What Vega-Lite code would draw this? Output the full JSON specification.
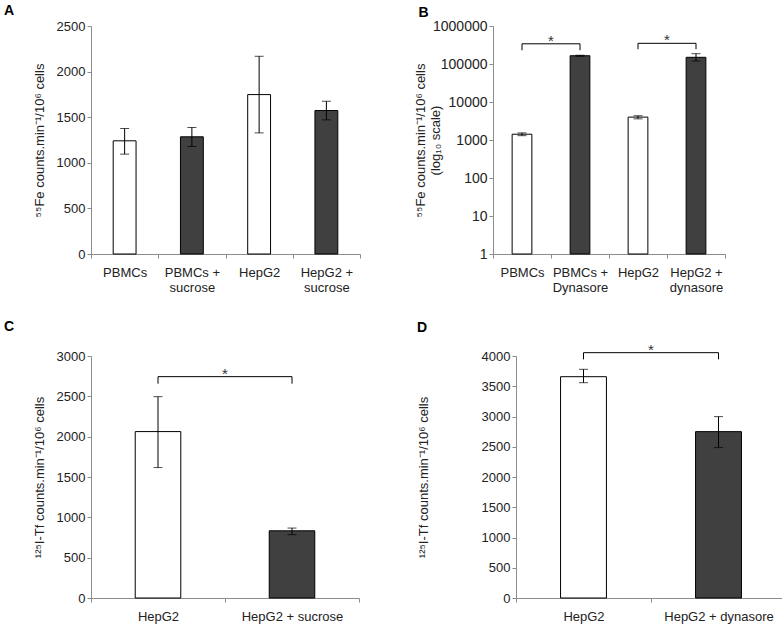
{
  "$schema": "https://vega.github.io/schema/vega-lite/v6.json",
  "padding": {"left": 4, "top": 4, "right": 2, "bottom": 2},
  "background": "white",
  "config": {
    "font": "Liberation Sans",
    "view": {"stroke": null},
    "axis": {"labelFont": "Liberation Sans", "labelFontSize": 13, "labelColor": "#222", "titleFont": "Liberation Sans", "titleFontSize": 13, "titleFontWeight": "normal", "titleColor": "#222", "domainColor": "#8c8c8c", "tickColor": "#8c8c8c", "grid": false, "tickSize": 4},
    "title": {"fontSize": 14, "fontWeight": "bold", "anchor": "start", "frame": "bounds", "color": "#000"}
  },
  "datasets": {
    "a": [
      {"group": "PBMCs", "treated": "no", "value": 1241, "lo": 1095, "hi": 1376},
      {"group": "PBMCs + sucrose", "treated": "yes", "value": 1285, "lo": 1179, "hi": 1387},
      {"group": "HepG2", "treated": "no", "value": 1748, "lo": 1328, "hi": 2168},
      {"group": "HepG2 + sucrose", "treated": "yes", "value": 1573, "lo": 1471, "hi": 1675}
    ],
    "b": [
      {"group": "PBMCs", "treated": "no", "value": 1420, "lo": 1300, "hi": 1540},
      {"group": "PBMCs + Dynasore", "treated": "yes", "value": 165000, "lo": 160000, "hi": 170000},
      {"group": "HepG2", "treated": "no", "value": 4000, "lo": 3600, "hi": 4350},
      {"group": "HepG2 + dynasore", "treated": "yes", "value": 150000, "lo": 120000, "hi": 187000}
    ],
    "bsig": [
      {"x1": "PBMCs", "x2": "PBMCs + Dynasore", "y": 340000, "ylow": 230000},
      {"x1": "HepG2", "x2": "HepG2 + dynasore", "y": 350000, "ylow": 245000}
    ],
    "c": [
      {"group": "HepG2", "treated": "no", "value": 2063, "lo": 1617, "hi": 2496},
      {"group": "HepG2 + sucrose", "treated": "yes", "value": 833, "lo": 785, "hi": 867}
    ],
    "csig": [
      {"x1": "HepG2", "x2": "HepG2 + sucrose", "y": 2744, "ylow": 2657}
    ],
    "d": [
      {"group": "HepG2", "treated": "no", "value": 3658, "lo": 3559, "hi": 3780},
      {"group": "HepG2 + dynasore", "treated": "yes", "value": 2750, "lo": 2486, "hi": 2998}
    ],
    "dsig": [
      {"x1": "HepG2", "x2": "HepG2 + dynasore", "y": 4055, "ylow": 3945}
    ]
  },
  "spacing": 26,
  "vconcat": [
    {
      "spacing": 53,
      "hconcat": [
        {
          "title": {"text": "A", "dx": -29, "offset": 2},
          "width": 269, "height": 228,
          "data": {"name": "a"},
          "encoding": {
            "x": {"field": "group", "type": "nominal", "scale": {"domain": ["PBMCs", "PBMCs + sucrose", "HepG2", "HepG2 + sucrose"], "paddingInner": 0, "paddingOuter": 0},
              "axis": {"title": null, "labelAngle": 0, "tickBand": "extent", "labelPadding": 8, "labelExpr": "indexof(datum.label, ' + ') > 0 ? [slice(datum.label, 0, indexof(datum.label, ' + ') + 2), slice(datum.label, indexof(datum.label, ' + ') + 3)] : datum.label"}}
          },
          "layer": [
            {"mark": {"type": "bar", "width": {"band": 0.34}, "stroke": "#000", "strokeWidth": 1},
              "encoding": {
                "y": {"field": "value", "type": "quantitative", "scale": {"domain": [0, 2500], "nice": false}, "axis": {"values": [0, 500, 1000, 1500, 2000, 2500], "format": "d", "title": "⁵⁵Fe counts.min⁻¹/10⁶ cells", "titlePadding": 10}},
                "color": {"field": "treated", "type": "nominal", "scale": {"domain": ["no", "yes"], "range": ["#ffffff", "#404040"]}, "legend": null}
              }},
            {"mark": {"type": "rule", "color": "#000"}, "encoding": {"y": {"field": "lo", "type": "quantitative", "scale": {"domain": [0, 2500], "nice": false}, "axis": {"values": [0, 500, 1000, 1500, 2000, 2500], "format": "d", "title": "⁵⁵Fe counts.min⁻¹/10⁶ cells", "titlePadding": 10}}, "y2": {"field": "hi"}}},
            {"mark": {"type": "tick", "color": "#000", "size": 9, "thickness": 1}, "encoding": {"y": {"field": "hi", "type": "quantitative", "scale": {"domain": [0, 2500], "nice": false}, "axis": {"values": [0, 500, 1000, 1500, 2000, 2500], "format": "d", "title": "⁵⁵Fe counts.min⁻¹/10⁶ cells", "titlePadding": 10}}}},
            {"mark": {"type": "tick", "color": "#000", "size": 9, "thickness": 1}, "encoding": {"y": {"field": "lo", "type": "quantitative", "scale": {"domain": [0, 2500], "nice": false}, "axis": {"values": [0, 500, 1000, 1500, 2000, 2500], "format": "d", "title": "⁵⁵Fe counts.min⁻¹/10⁶ cells", "titlePadding": 10}}}}
          ]
        },
        {
          "title": {"text": "B", "dx": 4, "offset": -1},
          "width": 232, "height": 228,
          "data": {"name": "b"},
          "encoding": {
            "x": {"field": "group", "type": "nominal", "scale": {"domain": ["PBMCs", "PBMCs + Dynasore", "HepG2", "HepG2 + dynasore"], "paddingInner": 0, "paddingOuter": 0},
              "axis": {"title": null, "labelAngle": 0, "tickBand": "extent", "labelPadding": 8, "labelExpr": "indexof(datum.label, ' + ') > 0 ? [slice(datum.label, 0, indexof(datum.label, ' + ') + 2), slice(datum.label, indexof(datum.label, ' + ') + 3)] : datum.label"}}
          },
          "layer": [
            {"mark": {"type": "bar", "width": {"band": 0.34}, "stroke": "#000", "strokeWidth": 1},
              "encoding": {
                "y": {"field": "value", "type": "quantitative", "scale": {"type": "log", "domain": [1, 1000000], "nice": false}, "axis": {"values": [1, 10, 100, 1000, 10000, 100000, 1000000], "format": "d", "labelFontSize": 14, "title": ["⁵⁵Fe counts.min⁻¹/10⁶ cells", "(log₁₀ scale)"], "titlePadding": -10}},
                "y2": {"datum": 1},
                "color": {"field": "treated", "type": "nominal", "scale": {"domain": ["no", "yes"], "range": ["#ffffff", "#404040"]}, "legend": null}
              }},
            {"mark": {"type": "rule", "color": "#000"}, "encoding": {"y": {"field": "lo", "type": "quantitative", "scale": {"type": "log", "domain": [1, 1000000], "nice": false}, "axis": {"values": [1, 10, 100, 1000, 10000, 100000, 1000000], "format": "d", "labelFontSize": 14, "title": ["⁵⁵Fe counts.min⁻¹/10⁶ cells", "(log₁₀ scale)"], "titlePadding": -10}}, "y2": {"field": "hi"}}},
            {"mark": {"type": "tick", "color": "#000", "size": 9, "thickness": 1}, "encoding": {"y": {"field": "hi", "type": "quantitative", "scale": {"type": "log", "domain": [1, 1000000], "nice": false}, "axis": {"values": [1, 10, 100, 1000, 10000, 100000, 1000000], "format": "d", "labelFontSize": 14, "title": ["⁵⁵Fe counts.min⁻¹/10⁶ cells", "(log₁₀ scale)"], "titlePadding": -10}}}},
            {"mark": {"type": "tick", "color": "#000", "size": 9, "thickness": 1}, "encoding": {"y": {"field": "lo", "type": "quantitative", "scale": {"type": "log", "domain": [1, 1000000], "nice": false}, "axis": {"values": [1, 10, 100, 1000, 10000, 100000, 1000000], "format": "d", "labelFontSize": 14, "title": ["⁵⁵Fe counts.min⁻¹/10⁶ cells", "(log₁₀ scale)"], "titlePadding": -10}}}},
            {"data": {"name": "bsig"}, "mark": {"type": "rule", "color": "#000"}, "encoding": {"x": {"field": "x1", "type": "nominal"}, "x2": {"field": "x2"}, "y": {"field": "y", "type": "quantitative", "scale": {"type": "log", "domain": [1, 1000000], "nice": false}, "axis": {"values": [1, 10, 100, 1000, 10000, 100000, 1000000], "format": "d", "labelFontSize": 14, "title": ["⁵⁵Fe counts.min⁻¹/10⁶ cells", "(log₁₀ scale)"], "titlePadding": -10}}}},
            {"data": {"name": "bsig"}, "mark": {"type": "rule", "color": "#000"}, "encoding": {"x": {"field": "x1", "type": "nominal"}, "y": {"field": "y", "type": "quantitative", "scale": {"type": "log", "domain": [1, 1000000], "nice": false}, "axis": {"values": [1, 10, 100, 1000, 10000, 100000, 1000000], "format": "d", "labelFontSize": 14, "title": ["⁵⁵Fe counts.min⁻¹/10⁶ cells", "(log₁₀ scale)"], "titlePadding": -10}}, "y2": {"field": "ylow"}}},
            {"data": {"name": "bsig"}, "mark": {"type": "rule", "color": "#000"}, "encoding": {"x": {"field": "x2", "type": "nominal"}, "y": {"field": "y", "type": "quantitative", "scale": {"type": "log", "domain": [1, 1000000], "nice": false}, "axis": {"values": [1, 10, 100, 1000, 10000, 100000, 1000000], "format": "d", "labelFontSize": 14, "title": ["⁵⁵Fe counts.min⁻¹/10⁶ cells", "(log₁₀ scale)"], "titlePadding": -10}}, "y2": {"field": "ylow"}}},
            {"data": {"name": "bsig"}, "mark": {"type": "text", "text": "*", "fontSize": 15, "color": "#333", "baseline": "alphabetic", "dy": 2}, "encoding": {"x": {"field": "x1", "type": "nominal", "bandPosition": 1}, "y": {"field": "y", "type": "quantitative", "scale": {"type": "log", "domain": [1, 1000000], "nice": false}, "axis": {"values": [1, 10, 100, 1000, 10000, 100000, 1000000], "format": "d", "labelFontSize": 14, "title": ["⁵⁵Fe counts.min⁻¹/10⁶ cells", "(log₁₀ scale)"], "titlePadding": -10}}}}
          ]
        }
      ]
    },
    {
      "spacing": 57,
      "hconcat": [
        {
          "title": {"text": "C", "dx": -29, "offset": 16},
          "width": 268, "height": 242,
          "data": {"name": "c"},
          "encoding": {
            "x": {"field": "group", "type": "nominal", "scale": {"domain": ["HepG2", "HepG2 + sucrose"], "paddingInner": 0, "paddingOuter": 0},
              "axis": {"title": null, "labelAngle": 0, "tickBand": "extent", "labelPadding": 8}}
          },
          "layer": [
            {"mark": {"type": "bar", "width": {"band": 0.34}, "stroke": "#000", "strokeWidth": 1},
              "encoding": {
                "y": {"field": "value", "type": "quantitative", "scale": {"domain": [0, 3000], "nice": false}, "axis": {"values": [0, 500, 1000, 1500, 2000, 2500, 3000], "format": "d", "title": "¹²⁵I-Tf counts.min⁻¹/10⁶ cells", "titlePadding": 10}},
                "color": {"field": "treated", "type": "nominal", "scale": {"domain": ["no", "yes"], "range": ["#ffffff", "#404040"]}, "legend": null}
              }},
            {"mark": {"type": "rule", "color": "#000"}, "encoding": {"y": {"field": "lo", "type": "quantitative", "scale": {"domain": [0, 3000], "nice": false}, "axis": {"values": [0, 500, 1000, 1500, 2000, 2500, 3000], "format": "d", "title": "¹²⁵I-Tf counts.min⁻¹/10⁶ cells", "titlePadding": 10}}, "y2": {"field": "hi"}}},
            {"mark": {"type": "tick", "color": "#000", "size": 9, "thickness": 1}, "encoding": {"y": {"field": "hi", "type": "quantitative", "scale": {"domain": [0, 3000], "nice": false}, "axis": {"values": [0, 500, 1000, 1500, 2000, 2500, 3000], "format": "d", "title": "¹²⁵I-Tf counts.min⁻¹/10⁶ cells", "titlePadding": 10}}}},
            {"mark": {"type": "tick", "color": "#000", "size": 9, "thickness": 1}, "encoding": {"y": {"field": "lo", "type": "quantitative", "scale": {"domain": [0, 3000], "nice": false}, "axis": {"values": [0, 500, 1000, 1500, 2000, 2500, 3000], "format": "d", "title": "¹²⁵I-Tf counts.min⁻¹/10⁶ cells", "titlePadding": 10}}}},
            {"data": {"name": "csig"}, "mark": {"type": "rule", "color": "#000"}, "encoding": {"x": {"field": "x1", "type": "nominal"}, "x2": {"field": "x2"}, "y": {"field": "y", "type": "quantitative", "scale": {"domain": [0, 3000], "nice": false}, "axis": {"values": [0, 500, 1000, 1500, 2000, 2500, 3000], "format": "d", "title": "¹²⁵I-Tf counts.min⁻¹/10⁶ cells", "titlePadding": 10}}}},
            {"data": {"name": "csig"}, "mark": {"type": "rule", "color": "#000"}, "encoding": {"x": {"field": "x1", "type": "nominal"}, "y": {"field": "y", "type": "quantitative", "scale": {"domain": [0, 3000], "nice": false}, "axis": {"values": [0, 500, 1000, 1500, 2000, 2500, 3000], "format": "d", "title": "¹²⁵I-Tf counts.min⁻¹/10⁶ cells", "titlePadding": 10}}, "y2": {"field": "ylow"}}},
            {"data": {"name": "csig"}, "mark": {"type": "rule", "color": "#000"}, "encoding": {"x": {"field": "x2", "type": "nominal"}, "y": {"field": "y", "type": "quantitative", "scale": {"domain": [0, 3000], "nice": false}, "axis": {"values": [0, 500, 1000, 1500, 2000, 2500, 3000], "format": "d", "title": "¹²⁵I-Tf counts.min⁻¹/10⁶ cells", "titlePadding": 10}}, "y2": {"field": "ylow"}}},
            {"data": {"name": "csig"}, "mark": {"type": "text", "text": "*", "fontSize": 15, "color": "#333", "baseline": "alphabetic", "dy": 2}, "encoding": {"x": {"field": "x1", "type": "nominal", "bandPosition": 1}, "y": {"field": "y", "type": "quantitative", "scale": {"domain": [0, 3000], "nice": false}, "axis": {"values": [0, 500, 1000, 1500, 2000, 2500, 3000], "format": "d", "title": "¹²⁵I-Tf counts.min⁻¹/10⁶ cells", "titlePadding": 10}}}}
          ]
        },
        {
          "title": {"text": "D", "dx": 0, "offset": 8},
          "width": 270, "height": 242,
          "data": {"name": "d"},
          "encoding": {
            "x": {"field": "group", "type": "nominal", "scale": {"domain": ["HepG2", "HepG2 + dynasore"], "paddingInner": 0, "paddingOuter": 0},
              "axis": {"title": null, "labelAngle": 0, "tickBand": "extent", "labelPadding": 8}}
          },
          "layer": [
            {"mark": {"type": "bar", "width": {"band": 0.34}, "stroke": "#000", "strokeWidth": 1},
              "encoding": {
                "y": {"field": "value", "type": "quantitative", "scale": {"domain": [0, 4000], "nice": false}, "axis": {"values": [0, 500, 1000, 1500, 2000, 2500, 3000, 3500, 4000], "format": "d", "title": "¹²⁵I-Tf counts.min⁻¹/10⁶ cells", "titlePadding": 51}},
                "color": {"field": "treated", "type": "nominal", "scale": {"domain": ["no", "yes"], "range": ["#ffffff", "#404040"]}, "legend": null}
              }},
            {"mark": {"type": "rule", "color": "#000"}, "encoding": {"y": {"field": "lo", "type": "quantitative", "scale": {"domain": [0, 4000], "nice": false}, "axis": {"values": [0, 500, 1000, 1500, 2000, 2500, 3000, 3500, 4000], "format": "d", "title": "¹²⁵I-Tf counts.min⁻¹/10⁶ cells", "titlePadding": 51}}, "y2": {"field": "hi"}}},
            {"mark": {"type": "tick", "color": "#000", "size": 9, "thickness": 1}, "encoding": {"y": {"field": "hi", "type": "quantitative", "scale": {"domain": [0, 4000], "nice": false}, "axis": {"values": [0, 500, 1000, 1500, 2000, 2500, 3000, 3500, 4000], "format": "d", "title": "¹²⁵I-Tf counts.min⁻¹/10⁶ cells", "titlePadding": 51}}}},
            {"mark": {"type": "tick", "color": "#000", "size": 9, "thickness": 1}, "encoding": {"y": {"field": "lo", "type": "quantitative", "scale": {"domain": [0, 4000], "nice": false}, "axis": {"values": [0, 500, 1000, 1500, 2000, 2500, 3000, 3500, 4000], "format": "d", "title": "¹²⁵I-Tf counts.min⁻¹/10⁶ cells", "titlePadding": 51}}}},
            {"data": {"name": "dsig"}, "mark": {"type": "rule", "color": "#000"}, "encoding": {"x": {"field": "x1", "type": "nominal"}, "x2": {"field": "x2"}, "y": {"field": "y", "type": "quantitative", "scale": {"domain": [0, 4000], "nice": false}, "axis": {"values": [0, 500, 1000, 1500, 2000, 2500, 3000, 3500, 4000], "format": "d", "title": "¹²⁵I-Tf counts.min⁻¹/10⁶ cells", "titlePadding": 51}}}},
            {"data": {"name": "dsig"}, "mark": {"type": "rule", "color": "#000"}, "encoding": {"x": {"field": "x1", "type": "nominal"}, "y": {"field": "y", "type": "quantitative", "scale": {"domain": [0, 4000], "nice": false}, "axis": {"values": [0, 500, 1000, 1500, 2000, 2500, 3000, 3500, 4000], "format": "d", "title": "¹²⁵I-Tf counts.min⁻¹/10⁶ cells", "titlePadding": 51}}, "y2": {"field": "ylow"}}},
            {"data": {"name": "dsig"}, "mark": {"type": "rule", "color": "#000"}, "encoding": {"x": {"field": "x2", "type": "nominal"}, "y": {"field": "y", "type": "quantitative", "scale": {"domain": [0, 4000], "nice": false}, "axis": {"values": [0, 500, 1000, 1500, 2000, 2500, 3000, 3500, 4000], "format": "d", "title": "¹²⁵I-Tf counts.min⁻¹/10⁶ cells", "titlePadding": 51}}, "y2": {"field": "ylow"}}},
            {"data": {"name": "dsig"}, "mark": {"type": "text", "text": "*", "fontSize": 15, "color": "#333", "baseline": "alphabetic", "dy": 2}, "encoding": {"x": {"field": "x1", "type": "nominal", "bandPosition": 1}, "y": {"field": "y", "type": "quantitative", "scale": {"domain": [0, 4000], "nice": false}, "axis": {"values": [0, 500, 1000, 1500, 2000, 2500, 3000, 3500, 4000], "format": "d", "title": "¹²⁵I-Tf counts.min⁻¹/10⁶ cells", "titlePadding": 51}}}}
          ]
        }
      ]
    }
  ]
}
